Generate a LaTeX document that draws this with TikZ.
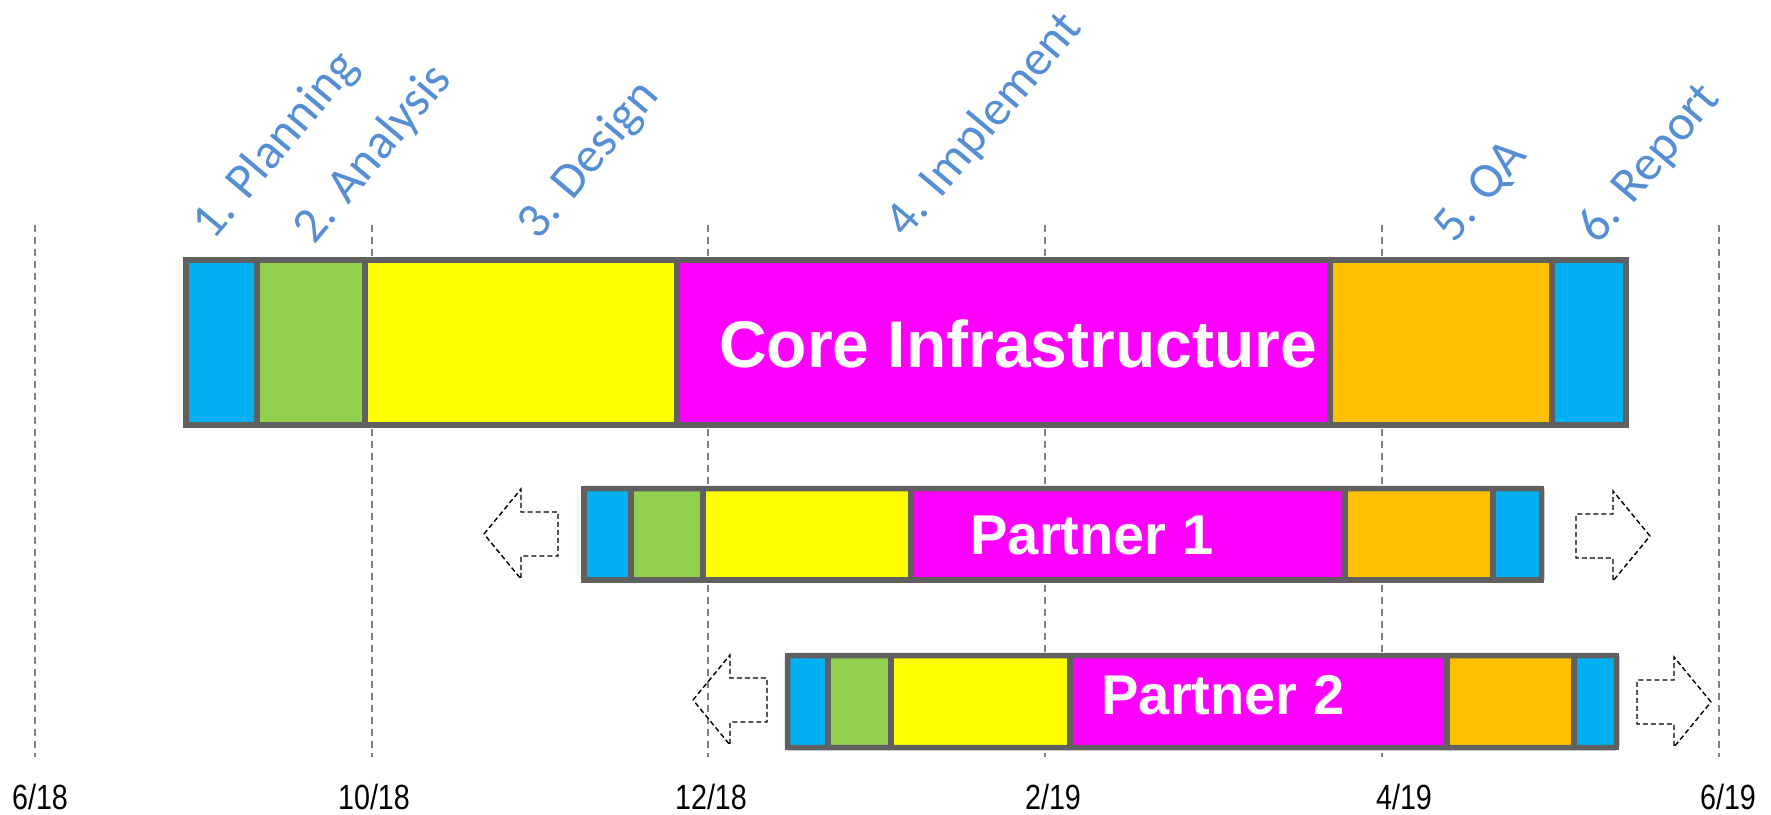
\documentclass[tikz,border=0pt]{standalone}
\usepackage{fontspec}
\setmainfont{Liberation Sans}
\newfontfamily\phasefont{Carlito}
\newfontfamily\datefont[FakeStretch=0.82]{Liberation Sans}
\usepackage{xcolor}
\usepackage{tikz}

\definecolor{planblue}{HTML}{00B0F0}
\definecolor{analysisgreen}{HTML}{92D050}
\definecolor{designyellow}{HTML}{FFFF00}
\definecolor{implmagenta}{HTML}{FF00FF}
\definecolor{qaorange}{HTML}{FFC000}
\definecolor{barframe}{HTML}{606060}
\definecolor{phasetext}{HTML}{558ED5}

\tikzset{
  seg/.style={draw=barframe, line width=5.5pt},
  barborder/.style={draw=barframe, line width=5.5pt, rounded corners=1.5pt},
  gridline/.style={draw=gray, line width=1.5pt, dash pattern=on 7pt off 5pt},
  ghost/.style={draw=black, line width=1.4pt, dash pattern=on 5pt off 3pt},
  phase/.style={text=phasetext, font=\phasefont\fontsize{50}{60}\selectfont,
    rotate=50, anchor=base west, inner sep=0pt},
  month/.style={font=\datefont\fontsize{35}{40}\selectfont, anchor=base, inner sep=0pt},
  bartitle/.style={text=white, font=\bfseries\fontsize{66}{70}\selectfont,
    anchor=base, inner sep=0pt},
  pics/backarrow/.style={code={
    \draw[ghost] (0,0) -- (37,-45) -- (37,-22) -- (74,-22) -- (74,22) -- (37,22) -- (37,45) -- cycle;}},
  pics/fwdarrow/.style={code={
    \draw[ghost] (0,0) -- (-37,-45) -- (-37,-22) -- (-74,-22) -- (-74,22) -- (-37,22) -- (-37,45) -- cycle;}}
}

\begin{document}
\begin{tikzpicture}[x=1pt, y=-1pt]
    \useasboundingbox (0,0) rectangle (1771,814);

    % month grid
    \draw[gridline] (35,225) -- (35,757);
    \draw[gridline] (372,225) -- (372,757);
    \draw[gridline] (708,225) -- (708,757);
    \draw[gridline] (1045,225) -- (1045,757);
    \draw[gridline] (1382,225) -- (1382,757);
    \draw[gridline] (1719,225) -- (1719,757);

    \node[month] (m1) at (40,809) {6/18};
    \node[month] (m2) at (374,809) {10/18};
    \node[month] (m3) at (711,809) {12/18};
    \node[month] (m4) at (1053,809) {2/19};
    \node[month] (m5) at (1404,809) {4/19};
    \node[month] (m6) at (1728,809) {6/19};

    % core bar
    \filldraw[seg, fill=planblue] (186,260) rectangle (257,425);
    \filldraw[seg, fill=analysisgreen] (257,260) rectangle (365,425);
    \filldraw[seg, fill=designyellow] (365,260) rectangle (677,425);
    \filldraw[seg, fill=implmagenta] (677,260) rectangle (1330,425);
    \filldraw[seg, fill=qaorange] (1330,260) rectangle (1552,425);
    \filldraw[seg, fill=planblue] (1552,260) rectangle (1626,425);
    \draw[barborder] (186,260) rectangle (1626,425);
    \node[bartitle] (core) at (1018,367) {Core Infrastructure};

    % partner 1
    \filldraw[seg, fill=planblue] (584,488.5) rectangle (631,580);
    \filldraw[seg, fill=analysisgreen] (631,488.5) rectangle (703,580);
    \filldraw[seg, fill=designyellow] (703,488.5) rectangle (911,580);
    \filldraw[seg, fill=implmagenta] (911,488.5) rectangle (1345,580);
    \filldraw[seg, fill=qaorange] (1345,488.5) rectangle (1493,580);
    \filldraw[seg, fill=planblue] (1493,488.5) rectangle (1541.5,580);
    \draw[barborder] (584,488.5) rectangle (1541.5,580);
    \node[bartitle, font=\bfseries\fontsize{56}{60}\selectfont] (p1) at (1092,554) {Partner 1};
    \pic at (484,534) {backarrow};
    \pic at (1650,536) {fwdarrow};

    % partner 2
    \filldraw[seg, fill=planblue] (787.5,655.5) rectangle (828,747.5);
    \filldraw[seg, fill=analysisgreen] (828,655.5) rectangle (891,747.5);
    \filldraw[seg, fill=designyellow] (891,655.5) rectangle (1070,747.5);
    \filldraw[seg, fill=implmagenta] (1070,655.5) rectangle (1447,747.5);
    \filldraw[seg, fill=qaorange] (1447,655.5) rectangle (1574,747.5);
    \filldraw[seg, fill=planblue] (1574,655.5) rectangle (1616.5,747.5);
    \draw[barborder] (787.5,655.5) rectangle (1616.5,747.5);
    \node[bartitle, font=\bfseries\fontsize{56}{60}\selectfont] (p2) at (1223,714) {Partner 2};
    \pic at (693,700) {backarrow};
    \pic at (1711,702) {fwdarrow};

    % phases
    \node[phase] (ph1) at (213,242) {1. Planning};
    \node[phase] (ph2) at (314,246) {2. Analysis};
    \node[phase] (ph3) at (538,242) {3. Design};
    \node[phase] (ph4) at (906,240) {4. Implement};
    \node[phase] (ph5) at (1454,245) {5. QA};
    \node[phase] (ph6) at (1598,246) {6. Report};
\end{tikzpicture}
\end{document}
